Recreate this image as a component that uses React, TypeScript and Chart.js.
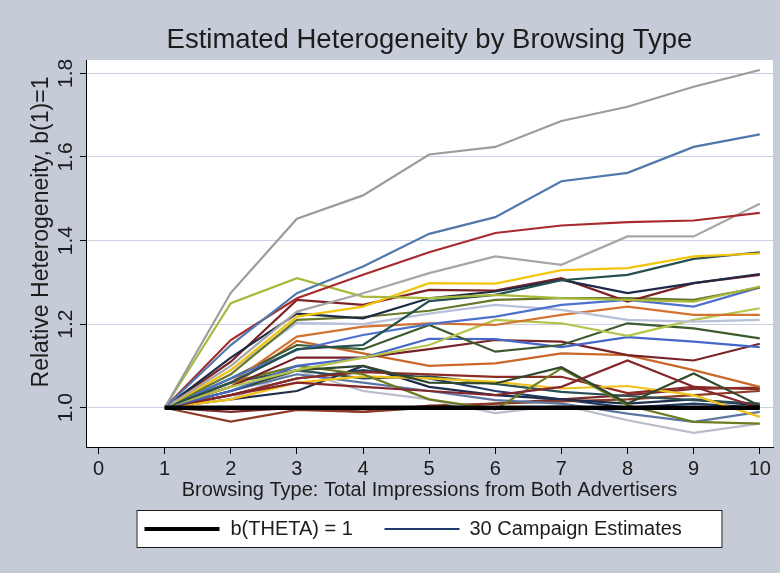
import { useEffect, useRef } from "react";
import { Chart, registerables } from "chart.js";

Chart.register(...registerables);

// Browsing type (total impressions) on the x axis
const browsingTypes = [1, 2, 3, 4, 5, 6, 7, 8, 9, 10];
const xTickValues = [0, 1, 2, 3, 4, 5, 6, 7, 8, 9, 10];
const yTickValues = [1.0, 1.2, 1.4, 1.6, 1.8];

// Reference line b(THETA) = 1
const thetaBaseline = [1, 1, 1, 1, 1, 1, 1, 1, 1, 1];

// Relative heterogeneity estimates, one array per campaign
const c01 = [1, 1.275, 1.452, 1.508, 1.606, 1.624, 1.686, 1.72, 1.768, 1.808];
const c02 = [1, 1.15, 1.274, 1.338, 1.416, 1.456, 1.542, 1.562, 1.624, 1.654];
const c03 = [1, 1.162, 1.262, 1.318, 1.372, 1.418, 1.436, 1.444, 1.448, 1.466];
const c04 = [1, 1.1, 1.23, 1.274, 1.322, 1.362, 1.342, 1.41, 1.41, 1.488];
const c05 = [1, 1.25, 1.31, 1.266, 1.262, 1.27, 1.262, 1.258, 1.254, 1.29];
const c06 = [1, 1.09, 1.218, 1.242, 1.298, 1.297, 1.329, 1.334, 1.362, 1.369];
const c07 = [1, 1.06, 1.14, 1.15, 1.255, 1.27, 1.305, 1.318, 1.356, 1.372];
const c08 = [1, 1.12, 1.225, 1.214, 1.262, 1.278, 1.306, 1.274, 1.298, 1.32];
const c09 = [1, 1.11, 1.258, 1.246, 1.282, 1.28, 1.31, 1.254, 1.298, 1.318];
const c10 = [1, 1.08, 1.21, 1.217, 1.232, 1.258, 1.262, 1.262, 1.258, 1.288];
const c11 = [1, 1.07, 1.138, 1.174, 1.2, 1.218, 1.246, 1.258, 1.242, 1.288];
const c12 = [1, 1.09, 1.203, 1.2, 1.225, 1.246, 1.234, 1.21, 1.206, 1.21];
const c13 = [1, 1.06, 1.17, 1.194, 1.202, 1.198, 1.222, 1.242, 1.222, 1.222];
const c14 = [1, 1.05, 1.09, 1.12, 1.15, 1.21, 1.202, 1.172, 1.21, 1.238];
const c15 = [1, 1.07, 1.15, 1.14, 1.198, 1.134, 1.15, 1.202, 1.19, 1.166];
const c16 = [1, 1.04, 1.1, 1.12, 1.165, 1.164, 1.145, 1.169, 1.158, 1.145];
const c17 = [1, 1.05, 1.12, 1.12, 1.14, 1.162, 1.158, 1.126, 1.113, 1.153];
const c18 = [1, 1.05, 1.16, 1.13, 1.1, 1.106, 1.13, 1.126, 1.09, 1.05];
const c19 = [1, 1.03, 1.06, 1.05, 1.04, 1.03, 1.05, 1.113, 1.05, 1.0];
const c20 = [1, 1.04, 1.09, 1.1, 1.06, 1.058, 1.097, 1.01, 1.082, 1.005];
const c21 = [1, 1.06, 1.1, 1.08, 1.02, 0.996, 1.094, 1.006, 0.966, 0.962];
const c22 = [1, 1.02, 1.06, 1.075, 1.07, 1.062, 1.046, 1.052, 1.03, 0.978];
const c23 = [1, 1.03, 1.07, 1.085, 1.08, 1.074, 1.074, 1.035, 1.05, 1.044];
const c24 = [1, 1.06, 1.09, 1.07, 1.075, 1.057, 1.038, 1.028, 1.018, 1.01];
const c25 = [1, 1.04, 1.08, 1.06, 1.04, 1.018, 1.01, 0.986, 0.966, 0.99];
const c26 = [1, 1.02, 1.09, 1.04, 1.02, 0.987, 1.006, 0.97, 0.94, 0.962];
const c27 = [1, 1.02, 1.04, 1.1, 1.05, 1.03, 1.02, 1.01, 1.02, 1.005];
const c28 = [1, 0.967, 0.995, 0.99, 1.005, 1.01, 1.015, 1.02, 1.03, 1.04];
const c29 = [1, 0.99, 1.0, 0.99, 1.0, 1.01, 1.02, 1.03, 1.045, 1.048];
const c30 = [1, 1.03, 1.07, 1.09, 1.07, 1.04, 1.02, 1.0, 1.01, 1.0];

const campaigns = [
  c01, c02, c03, c04, c05, c06, c07, c08, c09, c10,
  c11, c12, c13, c14, c15, c16, c17, c18, c19, c20,
  c21, c22, c23, c24, c25, c26, c27, c28, c29, c30,
];

const campaignColors = [
  "#9c9c9c", "#4f78ad", "#a82a2e", "#a6a6a6", "#a8b93c",
  "#f2c40c", "#24504f", "#1d2b47", "#7e2226", "#66782c",
  "#4d72cc", "#b8c0da", "#d27430", "#b7c44c", "#3d5b2e",
  "#4767c6", "#772428", "#c9682a", "#84262b", "#30492c",
  "#6d7c22", "#efc21a", "#8c2c24", "#2a4f55", "#5b76a2",
  "#b9bdc9", "#1e2d4c", "#8e3c26", "#7b2b2b", "#243c68",
];

const titleText = "Estimated Heterogeneity by Browsing Type";
const xTitle = "Browsing Type: Total Impressions from Both Advertisers";
const yTitle = "Relative Heterogeneity, b(1)=1";
const legendTheta = "b(THETA) = 1";
const legendCampaigns = "30 Campaign Estimates";

const FONT = "'Liberation Sans', Arial, Helvetica, sans-serif";
const TEXT = "#1c1c1c";
const PAGE_BG = "#c5cbd7";
const NAVY = "#1f3b6b";

const toPoints = (vals: number[]) =>
  browsingTypes.map((x, i) => ({ x, y: vals[i] }));

// Page background, white plot region, titles, rotated y labels and the legend box
const framePlugin = {
  id: "frame",
  beforeDraw(chart: any) {
    const { ctx, chartArea: a, width, height } = chart;
    ctx.save();
    ctx.fillStyle = PAGE_BG;
    ctx.fillRect(0, 0, width, height);
    ctx.fillStyle = "#ffffff";
    ctx.fillRect(a.left, a.top, a.right - a.left, a.bottom - a.top);
    ctx.restore();
  },
  afterDraw(chart: any) {
    const { ctx, chartArea: a, scales } = chart;
    const cx = (a.left + a.right) / 2;
    ctx.save();
    ctx.fillStyle = TEXT;
    ctx.textAlign = "center";
    ctx.textBaseline = "middle";

    ctx.font = `27.5px ${FONT}`;
    ctx.fillText(titleText, cx, 40);

    ctx.font = `21px ${FONT}`;
    for (const v of yTickValues) {
      const py = scales.y.getPixelForValue(v);
      ctx.save();
      ctx.translate(66, py);
      ctx.rotate(-Math.PI / 2);
      ctx.fillText(v.toFixed(1), 0, 0);
      ctx.restore();
    }

    ctx.font = `23px ${FONT}`;
    ctx.save();
    ctx.translate(42, 232);
    ctx.rotate(-Math.PI / 2);
    ctx.fillText(yTitle, 0, 0);
    ctx.restore();

    ctx.font = `20px ${FONT}`;
    ctx.fillText(xTitle, cx, 490);

    // legend
    const boxW = 586;
    const left = cx - boxW / 2;
    const top = 510;
    const boxH = 38;
    const midY = top + boxH / 2;
    ctx.fillStyle = "#ffffff";
    ctx.fillRect(left, top, boxW, boxH);
    ctx.strokeStyle = "#1a1a1a";
    ctx.lineWidth = 1;
    ctx.strokeRect(left + 0.5, top + 0.5, boxW - 1, boxH - 1);

    ctx.lineCap = "butt";
    ctx.strokeStyle = "#000000";
    ctx.lineWidth = 4;
    ctx.beginPath();
    ctx.moveTo(left + 8, midY);
    ctx.lineTo(left + 83, midY);
    ctx.stroke();

    ctx.strokeStyle = NAVY;
    ctx.lineWidth = 2;
    ctx.beginPath();
    ctx.moveTo(left + 248, midY);
    ctx.lineTo(left + 323, midY);
    ctx.stroke();

    ctx.fillStyle = TEXT;
    ctx.textAlign = "left";
    ctx.font = `20px ${FONT}`;
    ctx.fillText(legendTheta, left + 94, midY);
    ctx.fillText(legendCampaigns, left + 333, midY);
    ctx.restore();
  },
};

export default function App() {
  const canvasRef = useRef<HTMLCanvasElement | null>(null);

  useEffect(() => {
    document.body.style.margin = "0";
    const canvas = canvasRef.current;
    if (!canvas) return;

    const datasets: any[] = [
      {
        label: legendTheta,
        data: toPoints(thetaBaseline),
        borderColor: "#000000",
        borderWidth: 4.5,
        pointRadius: 0,
        fill: false,
      },
      ...campaigns.map((vals, i) => ({
        label: `Campaign ${i + 1}`,
        data: toPoints(vals),
        borderColor: campaignColors[i],
        borderWidth: 2.2,
        pointRadius: 0,
        fill: false,
      })),
    ];

    const chart = new Chart(canvas, {
      type: "line",
      data: { datasets },
      options: {
        responsive: false,
        animation: false,
        devicePixelRatio: 1,
        layout: { padding: { top: 60, right: 7, left: 0, bottom: 0 } },
        plugins: {
          legend: { display: false },
          title: { display: false },
          tooltip: { enabled: false },
        },
        scales: {
          x: {
            type: "linear",
            min: -0.19,
            max: 10.2,
            afterBuildTicks: (s: any) => {
              s.ticks = xTickValues.map((value) => ({ value }));
            },
            afterFit: (s: any) => {
              s.height = 126;
            },
            grid: {
              drawOnChartArea: false,
              drawTicks: true,
              tickLength: 7,
              tickColor: "#000000",
            },
            border: { display: true, color: "#000000", width: 1 },
            ticks: {
              font: { family: FONT, size: 20 },
              color: TEXT,
              padding: 3,
              maxRotation: 0,
              minRotation: 0,
              callback: (v: any) => String(v),
            },
            title: { display: false },
          },
          y: {
            type: "linear",
            min: 0.906,
            max: 1.832,
            afterBuildTicks: (s: any) => {
              s.ticks = yTickValues.map((value) => ({ value }));
            },
            afterFit: (s: any) => {
              s.width = 86;
            },
            grid: {
              color: "#c9d0e2",
              lineWidth: 1,
              drawTicks: true,
              tickLength: 6,
              tickColor: "#000000",
            },
            border: { display: true, color: "#000000", width: 1 },
            ticks: { display: false },
          },
        },
      },
      plugins: [framePlugin],
    });

    return () => chart.destroy();
  }, []);

  return (
    <div style={{ width: 780, height: 573 }}>
      <canvas ref={canvasRef} width={780} height={573} />
    </div>
  );
}
